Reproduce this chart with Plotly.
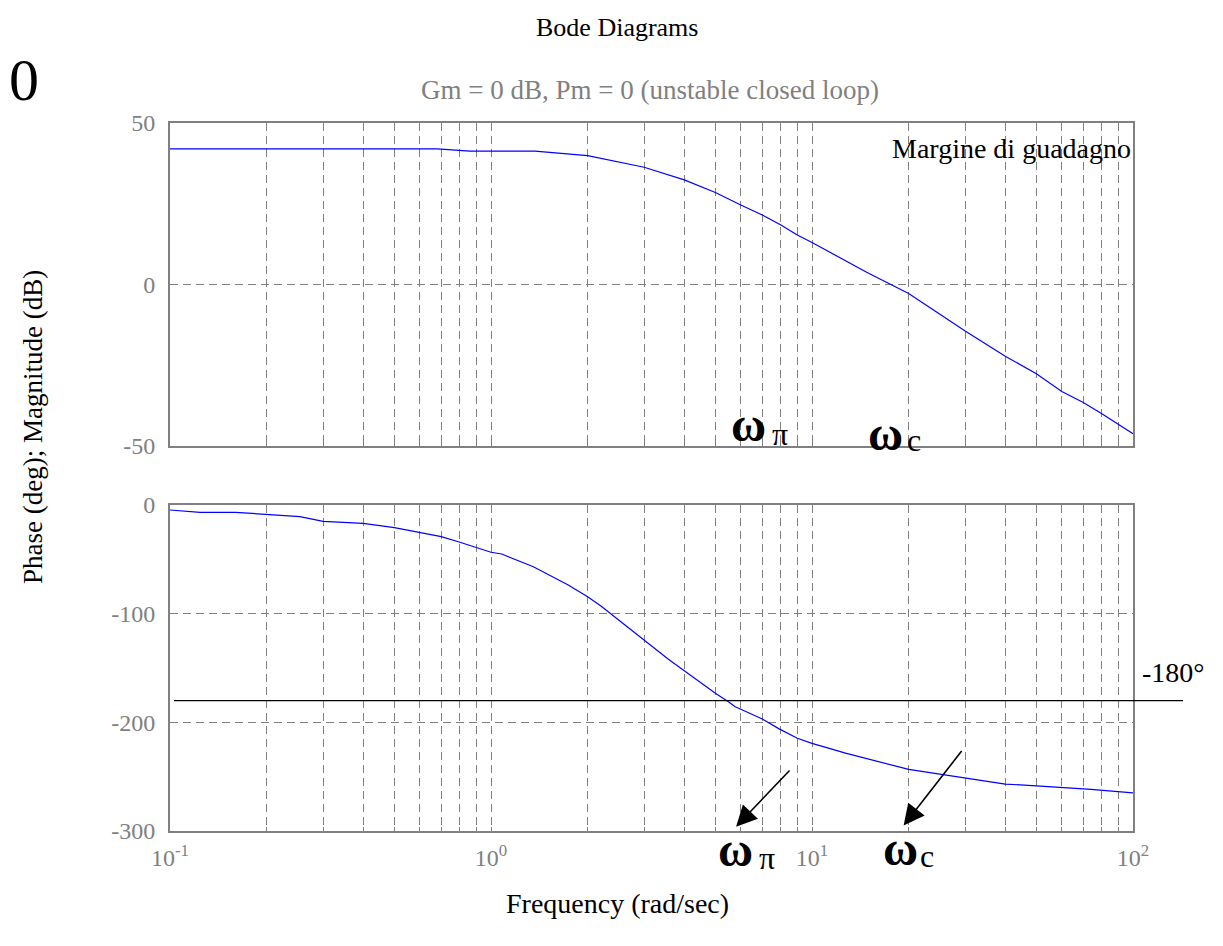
import math
import plotly.graph_objects as go

# Open-loop frequency response samples (rad/sec)
mag_freq = [0.1, 0.3, 0.68, 0.86, 1.0, 1.37, 2, 3, 4, 5, 6, 7, 8, 9, 10,
            14.8, 20, 30, 40, 50, 60, 70, 80, 100]
mag_db = [42.0, 42.0, 42.0, 41.3, 41.3, 41.3, 39.9, 36.3, 32.4, 28.5, 24.6,
          21.5, 18.4, 15.3, 13.0, 3.8, -2.8, -14.4, -22.2, -27.6, -33.1,
          -36.5, -40.0, -46.2]

phase_freq = [0.1, 0.124, 0.16, 0.2, 0.254, 0.3, 0.4, 0.5, 0.6, 0.7, 0.8, 0.9,
              1.0, 1.08, 1.355, 1.74, 2, 2.2, 3, 3.57, 4, 5, 5.49, 5.76, 6, 7,
              7.9, 9, 10, 12.8, 20, 30, 40, 50, 74, 100]
phase_deg = [-4.6, -6.7, -6.7, -8.6, -10.7, -15.0, -16.9, -20.9, -25.1, -29.1,
             -34.3, -38.9, -43.5, -45.1, -56.8, -73.6, -84.4, -93.0, -124.2,
             -142.0, -152.5, -173.3, -181.0, -185.6, -188.0, -196.9, -206.0,
             -214.7, -219.3, -228.6, -243.3, -251.6, -256.8, -258.4, -261.7,
             -265.0]

# Axis ticks
freq_ticks = [m * 10.0 ** e for e in (-1, 0, 1) for m in range(1, 10)] + [100]
freq_labels = ["10<sup>%d</sup>" % round(math.log10(v))
               if abs(math.log10(v) - round(math.log10(v))) < 1e-9 else ""
               for v in freq_ticks]
mag_ticks = [-50, 0, 50]
phase_ticks = [-300, -200, -100, 0]
critical_phase = -180

# Arrows pointing at the crossover frequencies on the phase plot
arrow_head_freq = [5.8, 19.3]
arrow_head_phase = [-296, -295]
arrow_tail_freq = [8.6, 29.5]
arrow_tail_phase = [-243, -225]

W, H = 1223, 946
X0, X1 = 170, 1133          # plot area, left/right (px)
Y0, Y1 = 123, 831           # plot area, top/bottom (px)
TOP = (123, 446)
BOT = (505, 831)
PW, PH = X1 - X0, Y1 - Y0


def px(x):
    return (x - X0) / PW


def py(y):
    return (Y1 - y) / PH


SERIF = "Liberation Serif"
GRAY = "#808080"
DASH = "8px,5px"


def hyphen(v):
    return str(v).replace("\u2212", "-")


fig = go.Figure()
fig.add_trace(go.Scatter(x=mag_freq, y=mag_db, mode="lines",
                         line=dict(color="#0000ff", width=1.2),
                         xaxis="x", yaxis="y", showlegend=False))
fig.add_trace(go.Scatter(x=phase_freq, y=phase_deg, mode="lines",
                         line=dict(color="#0000ff", width=1.2),
                         xaxis="x2", yaxis="y2", showlegend=False))

xcommon = dict(type="log", range=[-1, 2], tickmode="array", tickvals=freq_ticks,
               ticktext=freq_labels, showgrid=True, gridcolor=GRAY, gridwidth=1,
               griddash=DASH, showline=True, linecolor=GRAY, linewidth=2,
               mirror=True, ticks="inside", ticklen=4, tickcolor=GRAY,
               tickfont=dict(family=SERIF, size=24, color=GRAY),
               domain=[0, 1], zeroline=False, automargin=False)
ycommon = dict(showgrid=True, gridcolor=GRAY, gridwidth=1, griddash=DASH,
               showline=True, linecolor=GRAY, linewidth=2, mirror=True,
               ticks="", tickfont=dict(family=SERIF, size=24, color=GRAY),
               zeroline=False, ticklabelstandoff=8, automargin=False,
               tickmode="array")

fig.update_layout(
    width=W, height=H, autosize=False,
    margin=dict(l=X0, r=W - X1, t=Y0, b=H - Y1, pad=0),
    paper_bgcolor="white", plot_bgcolor="white",
    xaxis=dict(xcommon, anchor="y", showticklabels=False),
    yaxis=dict(ycommon, range=[-50, 50], tickvals=mag_ticks,
               ticktext=[hyphen(v) for v in mag_ticks],
               domain=[py(TOP[1]), py(TOP[0])], anchor="x"),
    xaxis2=dict(xcommon, anchor="y2", showticklabels=True, ticklabelstandoff=4),
    yaxis2=dict(ycommon, range=[-300, 0], tickvals=phase_ticks,
                ticktext=[hyphen(v) for v in phase_ticks],
                domain=[py(BOT[1]), py(BOT[0])], anchor="x2"),
)

# -180 degree reference line, running past the right edge of the plot
fig.add_shape(type="line", xref="paper", yref="y2",
              x0=px(174), x1=px(1183), y0=critical_phase, y1=critical_phase,
              line=dict(color="black", width=1.2))

annotations = []


def text(x, y, s, size, color="black", xanchor="center", yanchor="middle", angle=0):
    annotations.append(dict(x=px(x), y=py(y), xref="paper", yref="paper", text=s,
                            showarrow=False, xanchor=xanchor, yanchor=yanchor,
                            textangle=angle,
                            font=dict(family=SERIF, size=size, color=color)))


text(617, 28, "Bode Diagrams", 26)
text(650, 90, "Gm = 0 dB, Pm = 0 (unstable closed loop)", 27, color=GRAY)
text(24, 80, "0", 60)
text(1133, 148, "Margine di guadagno", 28, xanchor="right")
text(1140, 672, "-180°", 28, xanchor="left")
text(33, 427, "Phase (deg); Magnitude (dB)", 27, angle=-90)
text(617, 903, "Frequency (rad/sec)", 28)

# Crossover frequency markers
text(748, 424, "<b>ω</b>", 48)
text(780, 434, "π", 32)
text(885, 433, "<b>ω</b>", 48)
text(914, 440, "c", 32)
text(735, 849, "<b>ω</b>", 48)
text(767, 858, "π", 32)
text(900, 848, "<b>ω</b>", 48)
text(927, 856, "c", 32)

for hf, hp, tf, tp in zip(arrow_head_freq, arrow_head_phase, arrow_tail_freq, arrow_tail_phase):
    annotations.append(dict(x=math.log10(hf), y=hp, xref="x2", yref="y2",
                            ax=math.log10(tf), ay=tp, axref="x2", ayref="y2",
                            text="", showarrow=True, arrowhead=2, arrowsize=2.6,
                            arrowwidth=1.6, arrowcolor="black"))

fig.update_layout(annotations=annotations)
fig.write_html("out.html")
